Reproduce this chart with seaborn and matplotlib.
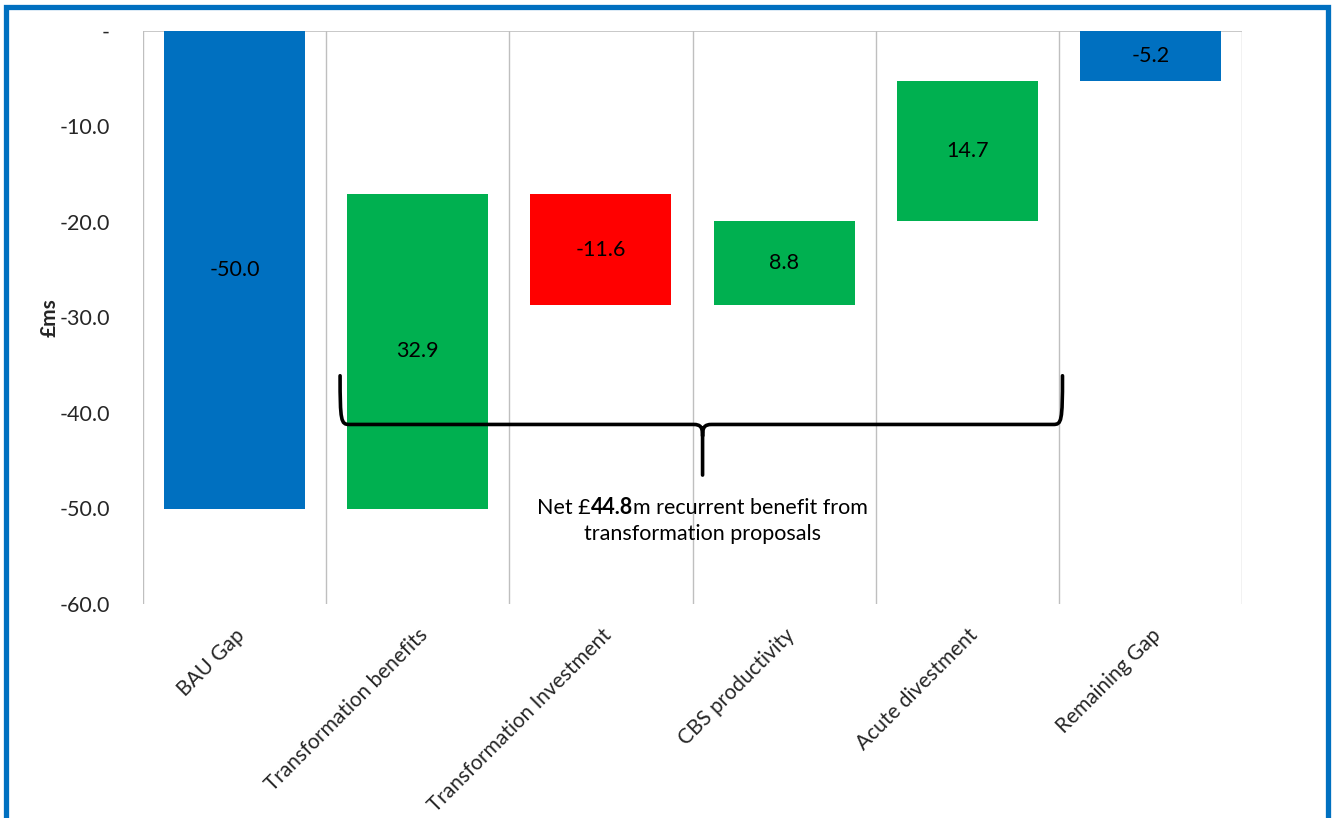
import numpy as np
import pandas as pd
import matplotlib
matplotlib.use("Agg")
import matplotlib.pyplot as plt
import seaborn as sns
from matplotlib.path import Path
from matplotlib.patches import PathPatch, Rectangle
from matplotlib.offsetbox import TextArea, HPacker, VPacker, AnnotationBbox
from matplotlib.ticker import FuncFormatter

# Bridge from the business-as-usual gap to the remaining gap (£m)
categories = ["BAU Gap", "Transformation benefits", "Transformation Investment",
              "CBS productivity", "Acute divestment", "Remaining Gap"]
changes = [-50.0, 32.9, -11.6, 8.8, 14.7]
remaining_gap = -5.2
bar_colors = ["#0070C0", "#00B050", "#FF0000", "#00B050", "#00B050", "#0070C0"]

# Floating bar bases and heights
bases, heights = [0.0], [changes[0]]
running = changes[0]
for step in changes[1:]:
    bases.append(running)
    heights.append(step)
    running += step
bases.append(0.0)
heights.append(remaining_gap)
net_benefit = sum(changes[1:])

df = pd.DataFrame({"category": categories, "height": heights, "base": bases})

FS = 15.5

sns.set_theme(style="white")
plt.rcParams["font.family"] = ["Lato", "DejaVu Sans"]

fig = plt.figure(figsize=(13.36, 8.18), dpi=100)
ax = fig.add_axes([143 / 1336, 1 - 604 / 818, (1242 - 143) / 1336, (604 - 31) / 818])

sns.barplot(data=df, x="category", y="height", order=categories, color=bar_colors[0],
            bottom=df["base"].to_numpy(), width=0.77, ax=ax,
            saturation=1, linewidth=0, errorbar=None)
for patch, c in zip(ax.patches, bar_colors):
    patch.set_facecolor(c)

ax.set_xlim(-0.5, len(categories) - 0.5)
ax.set_ylim(-60, 0)
ax.set_yticks(np.arange(-60, 1, 10))
ax.yaxis.set_major_formatter(FuncFormatter(lambda v, p: "-" if abs(v) < 1e-9 else f"{v:.1f}"))
ax.tick_params(axis="y", labelsize=FS, pad=24, length=0)
ax.tick_params(axis="x", length=0)
ax.set_xticks(range(len(categories)))
ax.set_xticklabels(categories, rotation=45, ha="right", rotation_mode="anchor", fontsize=15)
for lbl in ax.get_xticklabels():
    lbl.set_y(-0.028)
ax.set_xlabel("")
ax.set_ylabel("£ms", fontsize=FS - 0.5, fontweight="bold", labelpad=0)

for s in ax.spines.values():
    s.set_visible(False)

# Category separators and the zero line
for b in np.arange(-0.5, len(categories), 1.0):
    ax.axvline(b, color="#BFBFBF", lw=1.0, zorder=0)
ax.axhline(0, color="#BFBFBF", lw=1.2, zorder=0)

# Value labels in the middle of each bar
for i, (b, h) in enumerate(zip(bases, heights)):
    ax.text(i, b + h / 2, f"{h:.1f}", ha="center", va="center", fontsize=FS, color="black")

# Brace spanning the transformation items
xL, xR, xm = 0.576, 4.52, 2.555
yTop, yH, yBot = -36.1, -41.2, -46.5
cx, cy = 0.05, 1.6
tx, ty = 0.05, 1.2
verts = [
    (xL, yTop), (xL, yH + cy * 0.2), (xL + 0.005, yH), (xL + cx, yH),
    (xm - tx, yH),
    (xm - 0.01, yH), (xm, yH - 0.3), (xm, yH - ty),
    (xm, yBot),
    (xm, yH - ty),
    (xm, yH - 0.3), (xm + 0.01, yH), (xm + tx, yH),
    (xR - cx, yH),
    (xR - 0.005, yH), (xR, yH + cy * 0.2), (xR, yTop),
]
codes = [Path.MOVETO, Path.CURVE4, Path.CURVE4, Path.CURVE4,
         Path.LINETO,
         Path.CURVE4, Path.CURVE4, Path.CURVE4,
         Path.LINETO,
         Path.MOVETO,
         Path.CURVE4, Path.CURVE4, Path.CURVE4,
         Path.LINETO,
         Path.CURVE4, Path.CURVE4, Path.CURVE4]
ax.add_patch(PathPatch(Path(verts, codes), facecolor="none", edgecolor="black",
                       lw=2.6, capstyle="round", joinstyle="round", zorder=5))

# Annotation text with the net figure in bold
tp = dict(fontsize=FS, color="black")
line1 = HPacker(children=[TextArea("Net £", textprops=tp),
                          TextArea(f"{net_benefit:.1f}", textprops={**tp, "fontweight": "bold"}),
                          TextArea("m recurrent benefit from", textprops=tp)],
                pad=0, sep=0, align="baseline")
line2 = TextArea("transformation proposals", textprops=tp)
box = VPacker(children=[line1, line2], pad=0, sep=4, align="center")
ab = AnnotationBbox(box, (xm, -48.8), xycoords="data", box_alignment=(0.5, 1),
                    frameon=False, pad=0)
ax.add_artist(ab)

# Blue frame around the figure
fig.patches.append(Rectangle((5.5 / 1336, -0.05), (1327.5 - 5.5) / 1336, 1 - 6.5 / 818 + 0.05,
                             transform=fig.transFigure, fill=False,
                             edgecolor="#0070C0", lw=3.8, zorder=10))

fig.savefig("out.png", dpi=100)
